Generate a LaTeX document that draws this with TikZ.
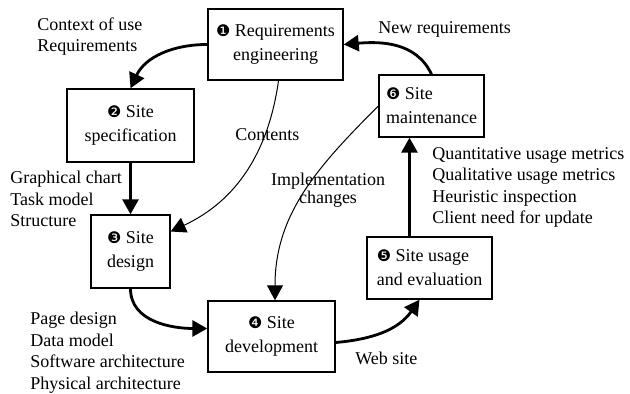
\documentclass[tikz,border=0pt]{standalone}
\usepackage{fontspec}
\setmainfont{Liberation Serif}
\newfontfamily\dingfont{DejaVu Sans}
\usepackage{tikz}
\usetikzlibrary{arrows.meta,positioning,calc}
\newcommand{\stepno}[1]{{\dingfont\fontsize{8}{8}\selectfont #1}}

\begin{document}
\begin{tikzpicture}[x=0.5pt,y=0.5pt,>={Triangle[length=7.5pt,width=8pt]},
  font=\fontsize{9}{10.8}\selectfont,
  box/.style={draw,line width=0.7pt,align=center,inner sep=2pt,font=\fontsize{9}{12}\selectfont},
  lab/.style={anchor=west,align=left,inner sep=0pt},
  flow/.style={->,line width=1.4pt},
  link/.style={->,line width=0.5pt}]
\useasboundingbox (0,0) rectangle (630,-394);
\node[box,minimum width=67.5pt,minimum height=35.5pt] (reqeng) at (275.5,-44.5) {\stepno{❶} Requirements\\ engineering};
\node[box,minimum width=63.5pt,minimum height=36.5pt] (sitespec) at (130.5,-125.5) {\stepno{❷} Site\\ specification};
\node[box,minimum width=39.5pt,minimum height=36.5pt] (sitedesign) at (130.5,-251.5) {\stepno{❸} Site\\ design};
\node[box,minimum width=63.5pt,minimum height=35.5pt] (sitedev) at (271.5,-336.5) {\stepno{❹} Site\\ development};
\node[box,align=left,minimum width=62.5pt,minimum height=31pt] (siteuse) at (429.5,-268) {\stepno{❺} Site usage\\ and evaluation};
\node[box,align=left,minimum width=52.5pt,minimum height=31pt] (sitemaint) at (431.5,-106) {\stepno{❻} Site\\ maintenance};
\draw[flow] (reqeng.west) to[out=180,in=65] (sitespec.north);
\draw[flow] (sitespec.south) -- (sitedesign.north);
\draw[flow] (sitedesign.south) to[out=-90,in=180] ([yshift=4pt]sitedev.west);
\draw[flow] ([yshift=-3pt]sitedev.east) to[out=5,in=-125] ([xshift=-5pt]siteuse.south);
\draw[flow] ([xshift=-10pt]siteuse.north) -- ([xshift=-10pt]siteuse.north |- sitemaint.south);
\draw[flow] (sitemaint.north) to[out=115,in=5] (reqeng.east);
\draw[link] ([xshift=1.5pt]reqeng.south) to[out=-98,in=25] ([yshift=10pt]sitedesign.east);
\draw[link] (sitemaint.west) to[out=225,in=90] ([xshift=1.75pt]sitedev.north);
\node[lab] (context) at (37,-36.5) {Context of use\\ Requirements};
\node[lab] (newreq) at (378,-29) {New requirements};
\node[lab] (specout) at (10,-199) {Graphical chart\\ Task model\\ Structure};
\node[lab] (metrics) at (432,-187.5) {Quantitative usage metrics\\ Qualitative usage metrics\\ Heuristic inspection\\ Client need for update};
\node[lab] (designout) at (30,-352.5) {Page design\\ Data model\\ Software architecture\\ Physical architecture};
\node[lab] (website) at (355,-358) {Web site};
\node[lab] (contents) at (235,-135) {Contents};
\node[lab,anchor=center,align=center,font=\fontsize{9}{8.8}\selectfont] (impl) at (328,-190.5) {Implementation\\ changes};
\end{tikzpicture}
\end{document}
